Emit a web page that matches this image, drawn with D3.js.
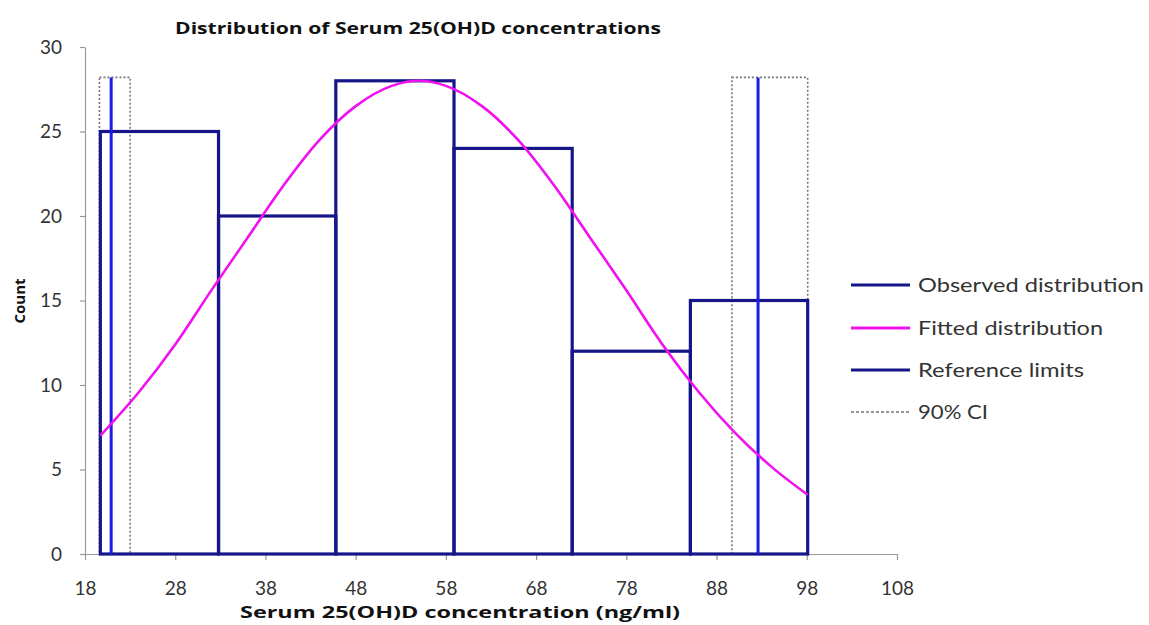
<!DOCTYPE html>
<html>
<head>
<meta charset="utf-8">
<script src="https://cdn.jsdelivr.net/npm/d3@7"></script>
<style>
  html, body { margin: 0; padding: 0; background: #fff; }
  svg { display: block; }
</style>
</head>
<body>
<svg id="chart" width="1149" height="625"></svg>
<script>
// ---- data ----
const binEdges = [19.7, 32.8, 45.8, 58.9, 72.0, 85.1, 98.1];
const binCounts = [25, 20, 28, 24, 12, 15];
const fitX = [19.7, 24, 28, 32, 36, 40, 44, 48, 52, 55, 58, 62, 66, 70, 74, 78, 82, 86, 90, 94, 98.1];
const fitY = [7.0, 9.6, 12.4, 15.6, 18.7, 21.8, 24.5, 26.5, 27.7, 28.0, 27.7, 26.5, 24.5, 21.8, 18.7, 15.6, 12.4, 9.6, 7.2, 5.2, 3.5];
const refLimits = [20.9, 92.6];
const ciLow = [19.6, 23.0];
const ciHigh = [89.7, 98.1];
const limitHeight = 28.2;
const xTicks = [18, 28, 38, 48, 58, 68, 78, 88, 98, 108];
const yTicks = [0, 5, 10, 15, 20, 25, 30];
const legendLabels = ["Observed distribution", "Fitted distribution", "Reference limits", "90% CI"];

const navy = "#16168a", magenta = "#f010f0", blue = "#1c1ce6", grey = "#777";

const svg = d3.select("#chart");
const x = d3.scaleLinear().domain([18, 108]).range([85, 897]);
const y = d3.scaleLinear().domain([0, 30]).range([554, 47]);

// axes
const xAxis = svg.append("g").attr("transform", `translate(0,${y(0)})`)
  .call(d3.axisBottom(x).tickValues(xTicks).tickSize(6).tickSizeOuter(0).tickPadding(22));
const yAxis = svg.append("g").attr("transform", `translate(${x(18)},0)`)
  .call(d3.axisLeft(y).tickValues(yTicks).tickSize(5).tickSizeOuter(0).tickPadding(18));
[xAxis, yAxis].forEach(g => {
  g.select(".domain").attr("stroke", "#999").attr("stroke-width", 1.2);
  g.selectAll(".tick line").attr("stroke", "#999").attr("stroke-width", 1.2);
  g.selectAll(".tick text").attr("fill", "#333").attr("font-family", "Lato, 'Open Sans', sans-serif")
    .attr("font-size", 19);
});

// CI boxes
[ciLow, ciHigh].forEach(ci => {
  svg.append("rect")
    .attr("x", x(ci[0])).attr("y", y(limitHeight))
    .attr("width", x(ci[1]) - x(ci[0])).attr("height", y(0) - y(limitHeight))
    .attr("fill", "none").attr("stroke", grey).attr("stroke-width", 1.6)
    .attr("stroke-dasharray", "2,2");
});

// histogram outline
const bins = binCounts.map((c, i) => ({x0: binEdges[i], x1: binEdges[i + 1], c}));
svg.append("g").selectAll("rect").data(bins).join("rect")
  .attr("x", d => x(d.x0)).attr("y", d => y(d.c))
  .attr("width", d => x(d.x1) - x(d.x0)).attr("height", d => y(0) - y(d.c))
  .attr("fill", "none").attr("stroke", navy).attr("stroke-width", 3.2);

// reference limits
svg.append("g").selectAll("line").data(refLimits).join("line")
  .attr("x1", d => x(d)).attr("x2", d => x(d))
  .attr("y1", y(0)).attr("y2", y(limitHeight))
  .attr("stroke", blue).attr("stroke-width", 3);

// fitted curve
const pts = fitX.map((v, i) => [v, fitY[i]]);
svg.append("path").datum(pts)
  .attr("d", d3.line().x(d => x(d[0])).y(d => y(d[1])).curve(d3.curveMonotoneX))
  .attr("fill", "none").attr("stroke", magenta).attr("stroke-width", 2.6);

// titles
svg.append("text").attr("x", 418).attr("y", 34).attr("text-anchor", "middle")
  .attr("font-family", "'Open Sans', Lato, sans-serif").attr("font-weight", "bold")
  .attr("font-size", 16).attr("fill", "#111")
  .attr("textLength", 486).attr("lengthAdjust", "spacingAndGlyphs")
  .text("Distribution of Serum 25(OH)D concentrations");

svg.append("text").attr("x", 460).attr("y", 618).attr("text-anchor", "middle")
  .attr("font-family", "'Open Sans', Lato, sans-serif").attr("font-weight", "bold")
  .attr("font-size", 16).attr("fill", "#111")
  .attr("textLength", 440).attr("lengthAdjust", "spacingAndGlyphs")
  .text("Serum 25(OH)D concentration  (ng/ml)");

svg.append("text").attr("transform", "translate(25,301) rotate(-90)").attr("text-anchor", "middle")
  .attr("font-family", "'Open Sans', Lato, sans-serif").attr("font-weight", "bold")
  .attr("font-size", 15).attr("fill", "#111")
  .text("Count");

// legend
const legY = [285, 328, 370, 412];
const legW = [226, 185, 166, 70];
const legStyles = [
  {stroke: navy, w: 3, dash: null},
  {stroke: magenta, w: 3, dash: null},
  {stroke: navy, w: 3, dash: null},
  {stroke: grey, w: 1.4, dash: "3,2"}
];
const leg = svg.append("g");
legendLabels.forEach((lab, i) => {
  leg.append("line").attr("x1", 851).attr("x2", 910).attr("y1", legY[i]).attr("y2", legY[i])
    .attr("stroke", legStyles[i].stroke).attr("stroke-width", legStyles[i].w)
    .attr("stroke-dasharray", legStyles[i].dash);
  leg.append("text").attr("x", 918).attr("y", legY[i]).attr("dy", "0.35em")
    .attr("font-family", "Lato, 'Open Sans', sans-serif").attr("font-size", 20).attr("fill", "#333")
    .attr("textLength", legW[i]).attr("lengthAdjust", "spacingAndGlyphs")
    .text(lab);
});
</script>
</body>
</html>
